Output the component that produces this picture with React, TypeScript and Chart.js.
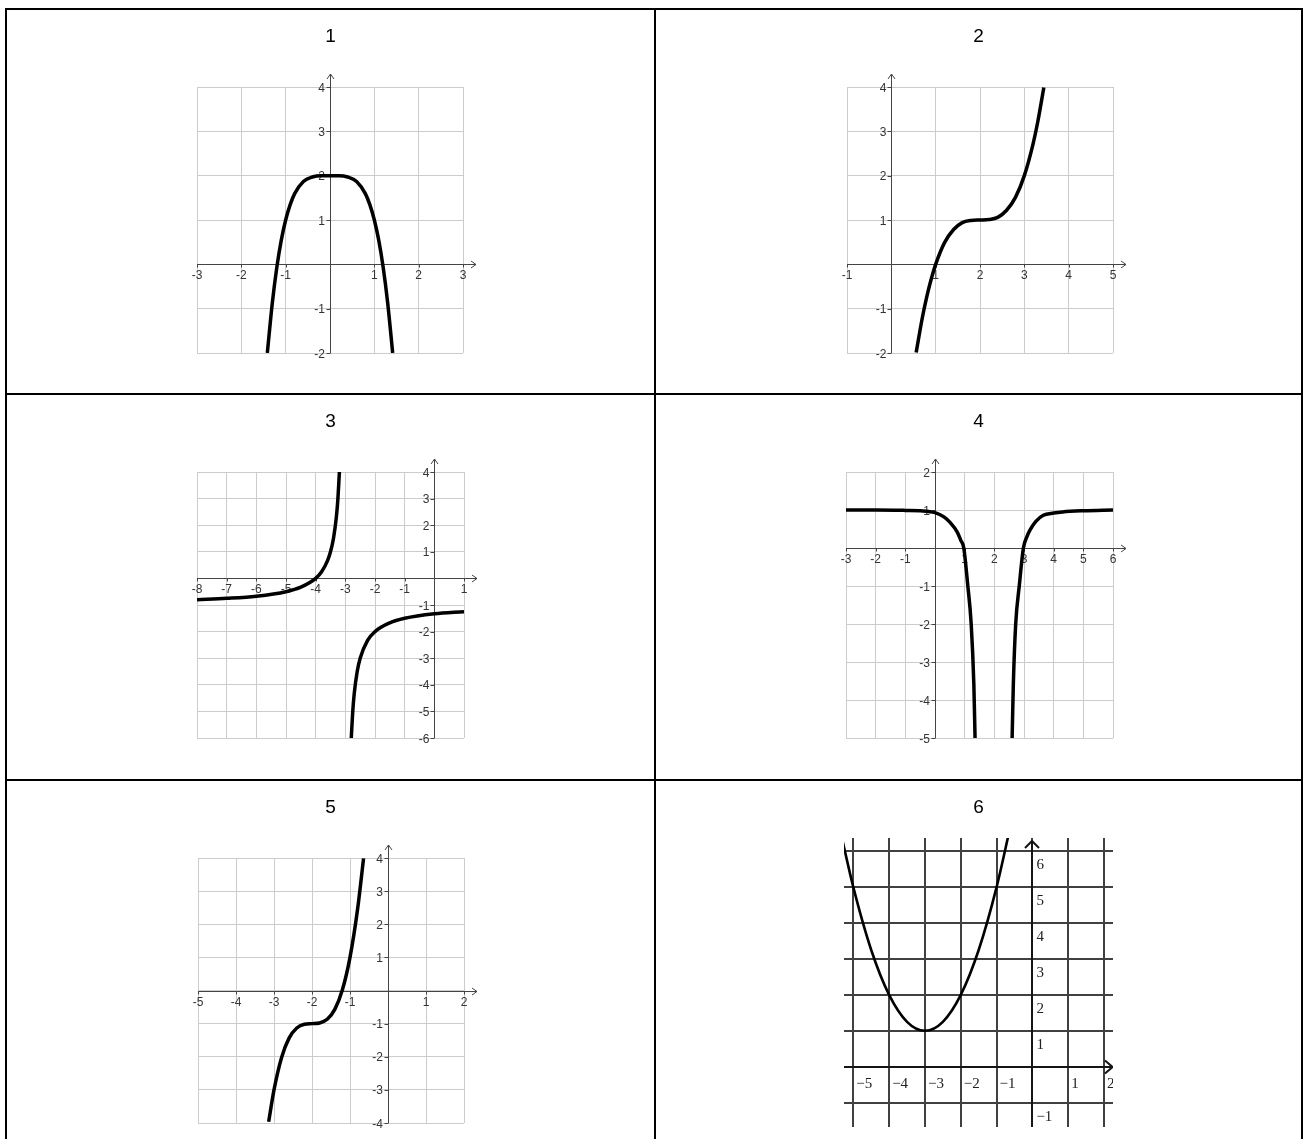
import React, { useEffect, useRef } from 'react';
import { Chart, registerables } from 'chart.js';

Chart.register(...registerables);

// ---------- Data ----------
// Panel 1
const p1Xs = [-1.414, -1.3, -1.2, -1.1, -1.0, -0.9, -0.8, -0.6, -0.4, -0.2, 0, 0.2, 0.4, 0.6, 0.8, 0.9, 1.0, 1.1, 1.2, 1.3, 1.414];
const p1Ys = [-2.0, -0.86, -0.07, 0.54, 1.0, 1.34, 1.59, 1.87, 1.97, 2.0, 2.0, 2.0, 1.97, 1.87, 1.59, 1.34, 1.0, 0.54, -0.07, -0.86, -2.0];
const p1XTicks = [-3, -2, -1, 1, 2, 3];
const p1YTicks = [-2, -1, 1, 2, 3, 4];

// Panel 2
const p2Xs = [0.56, 0.7, 0.8, 0.9, 1.0, 1.2, 1.4, 1.6, 1.8, 2.0, 2.2, 2.4, 2.6, 2.8, 3.0, 3.2, 3.3, 3.44];
const p2Ys = [-1.99, -1.2, -0.73, -0.33, 0, 0.49, 0.78, 0.94, 0.99, 1.0, 1.01, 1.06, 1.22, 1.51, 2.0, 2.73, 3.2, 3.99];
const p2XTicks = [-1, 1, 2, 3, 4, 5];
const p2YTicks = [-2, -1, 1, 2, 3, 4];

// Panel 3
const p3LeftXs = [-8, -7, -6, -5, -4.5, -4, -3.8, -3.6, -3.5, -3.4, -3.3, -3.25, -3.2];
const p3LeftYs = [-0.8, -0.75, -0.67, -0.5, -0.33, 0, 0.25, 0.67, 1.0, 1.5, 2.33, 3.0, 4.0];
const p3RightXs = [-2.8, -2.75, -2.7, -2.6, -2.5, -2.25, -2, -1.5, -1, 0, 1];
const p3RightYs = [-6, -5, -4.33, -3.5, -3, -2.33, -2, -1.67, -1.5, -1.33, -1.25];
const p3XTicks = [-8, -7, -6, -5, -4, -3, -2, -1, 1];
const p3YTicks = [-6, -5, -4, -3, -2, -1, 1, 2, 3, 4];

// Panel 4
const p4LeftXs = [-3, -2, -1, -0.5, 0, 0.3, 0.5, 0.75, 0.87, 0.97, 1.1, 1.22, 1.31, 1.35];
const p4LeftYs = [1.0, 1.0, 0.99, 0.98, 0.93, 0.82, 0.68, 0.42, 0.2, 0, -0.95, -2.0, -3.6, -5.0];
const p4RightXs = [2.6, 2.64, 2.72, 2.84, 2.98, 3.1, 3.2, 3.4, 3.65, 4.0, 4.3, 5, 6];
const p4RightYs = [-5.0, -3.6, -2.0, -1.0, 0, 0.3, 0.47, 0.7, 0.86, 0.92, 0.95, 0.98, 1.0];
const p4XTicks = [-3, -2, -1, 1, 2, 3, 4, 5, 6];
const p4YTicks = [-5, -4, -3, -2, -1, 1, 2];

// Panel 5
const p5Xs = [-3.14, -3.0, -2.8, -2.6, -2.4, -2.2, -2.0, -1.8, -1.6, -1.4, -1.2, -1.0, -0.8, -0.643];
const p5Ys = [-3.96, -3.0, -2.02, -1.43, -1.13, -1.02, -1.0, -0.98, -0.87, -0.57, 0.02, 1.0, 2.46, 3.99];
const p5XTicks = [-5, -4, -3, -2, -1, 1, 2];
const p5YTicks = [-4, -3, -2, -1, 1, 2, 3, 4];

// Panel 6
const p6Xs = [-5.3, -5.0, -4.5, -4.0, -3.5, -3.0, -2.5, -2.0, -1.5, -1.0, -0.6];
const p6Ys = [6.29, 5.0, 3.25, 2.0, 1.25, 1.0, 1.25, 2.0, 3.25, 5.0, 6.76];
const p6XTicks = [-5, -4, -3, -2, -1, 1, 2];
const p6YTicks = [-1, 1, 2, 3, 4, 5, 6];

const panelTitles = ['1', '2', '3', '4', '5', '6'];

// ---------- Layout ----------
type Pad = { left: number; right: number; top: number; bottom: number };
type Series = { xs: number[]; ys: number[] };
type PanelDef = {
  title: string;
  dark: boolean;
  cell: { left: number; top: number; width: number; height: number };
  pad: Pad;
  xMin: number; xMax: number; yMin: number; yMax: number;
  series: Series[];
  xTicks: number[];
  yTicks: number[];
};

const COL = [
  { left: 7, width: 647 },
  { left: 656, width: 645 },
];
const ROW = [
  { top: 10, height: 383 },
  { top: 395, height: 384 },
  { top: 781, height: 358 },
];
const cellOf = (c: number, r: number) => ({ left: COL[c].left, width: COL[c].width, top: ROW[r].top, height: ROW[r].height });

const panels: PanelDef[] = [
  {
    title: panelTitles[0], dark: false, cell: cellOf(0, 0),
    pad: { left: 190, right: 191, top: 77, bottom: 40 },
    xMin: -3, xMax: 3, yMin: -2, yMax: 4,
    series: [{ xs: p1Xs, ys: p1Ys }], xTicks: p1XTicks, yTicks: p1YTicks,
  },
  {
    title: panelTitles[1], dark: false, cell: cellOf(1, 0),
    pad: { left: 191, right: 188, top: 77, bottom: 40 },
    xMin: -1, xMax: 5, yMin: -2, yMax: 4,
    series: [{ xs: p2Xs, ys: p2Ys }], xTicks: p2XTicks, yTicks: p2YTicks,
  },
  {
    title: panelTitles[2], dark: false, cell: cellOf(0, 1),
    pad: { left: 190, right: 190, top: 77, bottom: 41 },
    xMin: -8, xMax: 1, yMin: -6, yMax: 4,
    series: [{ xs: p3LeftXs, ys: p3LeftYs }, { xs: p3RightXs, ys: p3RightYs }], xTicks: p3XTicks, yTicks: p3YTicks,
  },
  {
    title: panelTitles[3], dark: false, cell: cellOf(1, 1),
    pad: { left: 190, right: 188, top: 77, bottom: 41 },
    xMin: -3, xMax: 6, yMin: -5, yMax: 2,
    series: [{ xs: p4LeftXs, ys: p4LeftYs }, { xs: p4RightXs, ys: p4RightYs }], xTicks: p4XTicks, yTicks: p4YTicks,
  },
  {
    title: panelTitles[4], dark: false, cell: cellOf(0, 2),
    pad: { left: 191, right: 190, top: 77, bottom: 16 },
    xMin: -5, xMax: 2, yMin: -4, yMax: 4,
    series: [{ xs: p5Xs, ys: p5Ys }], xTicks: p5XTicks, yTicks: p5YTicks,
  },
  {
    title: panelTitles[5], dark: true, cell: cellOf(1, 2),
    pad: { left: 188, right: 188, top: 57, bottom: 12 },
    xMin: -5.26, xMax: 2.25, yMin: -1.68, yMax: 6.37,
    series: [{ xs: p6Xs, ys: p6Ys }], xTicks: p6XTicks, yTicks: p6YTicks,
  },
];

const intTicks = (min: number, max: number) => {
  const out: { value: number }[] = [];
  for (let v = Math.ceil(min - 1e-9); v <= max + 1e-9; v++) out.push({ value: v });
  return out;
};

const SANS = '"Liberation Sans", Arial, Helvetica, sans-serif';
const SERIF = '"Liberation Serif", "Times New Roman", serif';

function decorPlugin(def: PanelDef) {
  return {
    id: 'panelDecor',
    beforeDatasetsDraw(chart: any) {
      const ctx: CanvasRenderingContext2D = chart.ctx;
      const xs = chart.scales.x;
      const ys = chart.scales.y;
      const a = chart.chartArea;
      const ax = xs.getPixelForValue(0);
      const ay = ys.getPixelForValue(0);
      ctx.save();
      if (!def.dark) {
        const X = Math.round(ax) + 0.5;
        const Y = Math.round(ay) + 0.5;
        ctx.strokeStyle = '#444';
        ctx.lineWidth = 1;
        // x axis + arrow
        ctx.beginPath();
        ctx.moveTo(a.left, Y);
        ctx.lineTo(a.right + 13, Y);
        ctx.moveTo(a.right + 8, Y - 3.5);
        ctx.lineTo(a.right + 13, Y);
        ctx.lineTo(a.right + 8, Y + 3.5);
        // y axis + arrow
        ctx.moveTo(X, a.bottom);
        ctx.lineTo(X, a.top - 13);
        ctx.moveTo(X - 3.5, a.top - 8);
        ctx.lineTo(X, a.top - 13);
        ctx.lineTo(X + 3.5, a.top - 8);
        ctx.stroke();
        // ticks
        ctx.beginPath();
        def.xTicks.forEach((v) => {
          const px = Math.round(xs.getPixelForValue(v)) + 0.5;
          ctx.moveTo(px, Y);
          ctx.lineTo(px, Y + 3);
        });
        def.yTicks.forEach((v) => {
          const py = Math.round(ys.getPixelForValue(v)) + 0.5;
          ctx.moveTo(X - 4, py);
          ctx.lineTo(X, py);
        });
        ctx.stroke();
        // labels
        ctx.font = '12px ' + SANS;
        ctx.fillStyle = '#333';
        ctx.textBaseline = 'alphabetic';
        ctx.textAlign = 'center';
        def.xTicks.forEach((v) => {
          ctx.fillText(String(v), xs.getPixelForValue(v), ay + 15);
        });
        ctx.textAlign = 'right';
        def.yTicks.forEach((v) => {
          ctx.fillText(String(v), ax - 5, ys.getPixelForValue(v) + 4.5);
        });
      } else {
        ctx.beginPath();
        ctx.rect(a.left, a.top, a.right - a.left, a.bottom - a.top);
        ctx.clip();
        const X = Math.round(ax);
        const Y = Math.round(ay);
        ctx.strokeStyle = '#151515';
        ctx.lineWidth = 2;
        ctx.beginPath();
        ctx.moveTo(a.left, Y);
        ctx.lineTo(a.right - 0.5, Y);
        ctx.moveTo(a.right - 8, Y - 6.5);
        ctx.lineTo(a.right - 0.5, Y);
        ctx.lineTo(a.right - 8, Y + 6.5);
        ctx.moveTo(X, a.bottom);
        ctx.lineTo(X, a.top + 3);
        ctx.moveTo(X - 7, a.top + 10);
        ctx.lineTo(X, a.top + 3);
        ctx.lineTo(X + 7, a.top + 10);
        ctx.stroke();
        ctx.font = '15px ' + SERIF;
        ctx.fillStyle = '#222';
        ctx.textBaseline = 'alphabetic';
        ctx.textAlign = 'left';
        const fmt = (v: number) => (v < 0 ? '\u2212' + Math.abs(v) : String(v));
        def.xTicks.forEach((v) => {
          ctx.fillText(fmt(v), xs.getPixelForValue(v) + 3, ay + 21);
        });
        def.yTicks.forEach((v) => {
          ctx.fillText(fmt(v), ax + 4, ys.getPixelForValue(v) + 18);
        });
      }
      ctx.restore();
    },
    afterDraw(chart: any) {
      const ctx: CanvasRenderingContext2D = chart.ctx;
      ctx.save();
      ctx.font = '19px ' + SANS;
      ctx.fillStyle = '#000';
      ctx.textAlign = 'center';
      ctx.textBaseline = 'alphabetic';
      ctx.fillText(def.title, chart.width / 2, 32);
      ctx.restore();
    },
  };
}

function Panel({ def }: { def: PanelDef }) {
  const ref = useRef<HTMLCanvasElement>(null);
  useEffect(() => {
    const canvas = ref.current;
    if (!canvas) return;
    const gridColor = def.dark ? '#404040' : '#cccccc';
    const gridWidth = def.dark ? 2 : 1;
    const axisOpts = (min: number, max: number) => ({
      type: 'linear' as const,
      min,
      max,
      ticks: { display: false },
      afterBuildTicks: (scale: any) => {
        scale.ticks = intTicks(min, max);
      },
      grid: { color: gridColor, lineWidth: gridWidth, drawTicks: false },
      border: { display: false },
    });
    const chart = new Chart(canvas, {
      type: 'scatter',
      data: {
        datasets: def.series.map((s) => {
          const ds: any = {
            data: s.xs.map((x, i) => ({ x, y: s.ys[i] })),
            showLine: true,
            borderColor: '#000',
            backgroundColor: '#000',
            borderWidth: def.dark ? 2.6 : 3.5,
            pointRadius: 0,
            cubicInterpolationMode: 'monotone',
            borderJoinStyle: 'round',
            borderCapStyle: 'butt',
          };
          if (def.dark) ds.clip = 0;
          return ds;
        }),
      },
      options: {
        responsive: false,
        animation: false,
        events: [],
        layout: { padding: def.pad },
        plugins: { legend: { display: false }, tooltip: { enabled: false } },
        scales: {
          x: axisOpts(def.xMin, def.xMax),
          y: axisOpts(def.yMin, def.yMax),
        },
      } as any,
      plugins: [decorPlugin(def) as any],
    });
    return () => chart.destroy();
  }, [def]);
  const { left, top, width, height } = def.cell;
  return (
    <canvas
      ref={ref}
      width={width}
      height={height}
      style={{ position: 'absolute', left, top, width, height }}
    />
  );
}

const borderLines = [
  { left: 5, top: 8, width: 2, height: 1131 },
  { left: 654, top: 8, width: 2, height: 1131 },
  { left: 1301, top: 8, width: 2, height: 1131 },
  { left: 5, top: 8, width: 1298, height: 2 },
  { left: 5, top: 393, width: 1298, height: 2 },
  { left: 5, top: 779, width: 1298, height: 2 },
];

export default function App() {
  return (
    <div
      style={{
        position: 'fixed',
        left: 0,
        top: 0,
        width: 1303,
        height: 1139,
        overflow: 'hidden',
        background: '#fff',
      }}
    >
      {borderLines.map((b, i) => (
        <div key={i} style={{ position: 'absolute', background: '#000', ...b }} />
      ))}
      {panels.map((p) => (
        <Panel key={p.title} def={p} />
      ))}
    </div>
  );
}
